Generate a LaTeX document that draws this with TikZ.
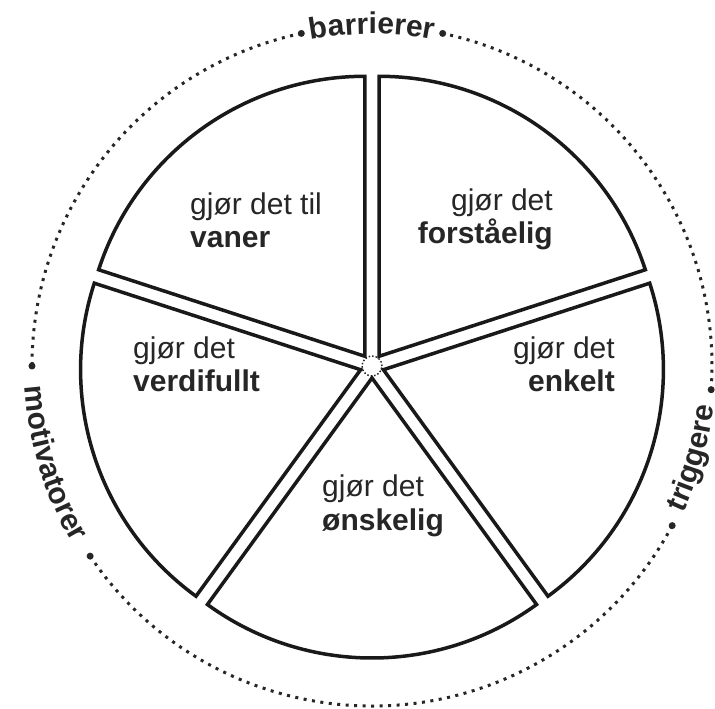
\documentclass[tikz,border=0pt]{standalone}
\usepackage{fontspec}
\setmainfont{Liberation Sans}
\usetikzlibrary{decorations.text}

\begin{document}
\begin{tikzpicture}[
    x=1pt, y=1pt,
    slice/.style={draw=black!90, line width=3.5pt, fill=white, line join=miter},
    slicetext/.style={font=\fontsize{30}{33}\selectfont, text=black!85, inner sep=0pt},
    ringline/.style={draw=black!85, line width=3pt, dash pattern=on 3pt off 5.5pt},
    ringtext/.style={decorate, decoration={text along path, text align=center,
        text={|\fontsize{30}{30}\selectfont\bfseries\color{black!85}|#1}}}
]
\useasboundingbox (-372,-343) rectangle (343,366);

% dotted ring with labels
\draw[ringline] (102:340) arc[start angle=102, end angle=180, radius=340];
\draw[ringline] (214:340) arc[start angle=214, end angle=332, radius=340];
\draw[ringline] (-4:340) arc[start angle=-4, end angle=78, radius=340];
\foreach \d in {78,102,180,214,-4,-28}
    \fill[black!85] (\d:340) circle[radius=3.5];
\path[ringtext=barrierer] (110:332) arc[start angle=110, end angle=70, radius=332];
\path[ringtext=triggere] (-32:344) arc[start angle=-32, end angle=0, radius=344];
\path[ringtext=motivatorer] (176:348) arc[start angle=176, end angle=218, radius=348];

% pie
\draw[black!85, line width=1.5pt, dotted] (0,0) circle[radius=10];
\foreach \a in {-54,18,90,162,234}
    \draw[slice, shift={(\a+36:12)}] (0,0) -- (\a:280)
        arc[start angle=\a, delta angle=72, radius=280] -- cycle;

\node[slicetext, anchor=base west, align=left] (vaner) at (-182,118)
    {gjør det til\\\textbf{vaner}};
\node[slicetext, anchor=base east, align=right] (forstaaelig) at (181,122)
    {gjør det\\\textbf{forståelig}};
\node[slicetext, anchor=base east, align=right] (enkelt) at (243,-26)
    {gjør det\\\textbf{enkelt}};
\node[slicetext, anchor=base west, align=left] (verdifullt) at (-239,-26)
    {gjør det\\\textbf{verdifullt}};
\node[slicetext, anchor=base west, align=left] (onskelig) at (-50,-164)
    {gjør det\\\textbf{ønskelig}};
\end{tikzpicture}
\end{document}
